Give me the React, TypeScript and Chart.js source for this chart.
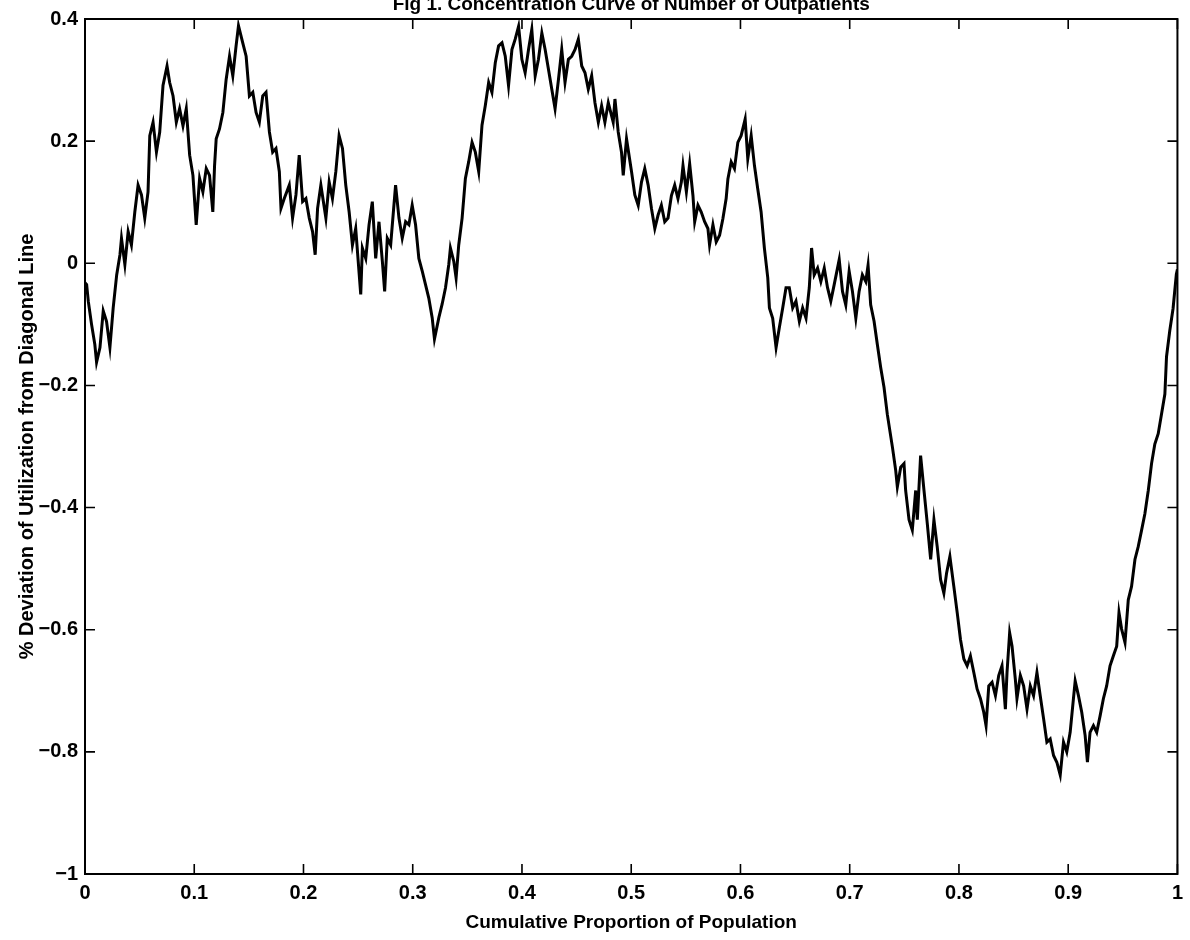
import React, { useEffect, useRef } from "react";
import { Chart, registerables } from "chart.js";

Chart.register(...registerables);

const TITLE = "Fig 1. Concentration Curve of Number of Outpatients";
const X_LABEL = "Cumulative Proportion of Population";
const Y_LABEL = "% Deviation of Utilization from Diagonal Line";

const X_TICKS = [0, 0.1, 0.2, 0.3, 0.4, 0.5, 0.6, 0.7, 0.8, 0.9, 1];
const Y_TICKS = [-1, -0.8, -0.6, -0.4, -0.2, 0, 0.2, 0.4];

// cumulative proportion of population (x)
const proportion = [
  0.0, 0.0015, 0.003, 0.006, 0.009, 0.0106, 0.0137, 0.0167, 0.0197, 0.0228,
  0.0258, 0.029, 0.032, 0.0334, 0.0365, 0.0395, 0.0425, 0.0456, 0.0486, 0.0517,
  0.0547, 0.0577, 0.0593, 0.0623, 0.0654, 0.0684, 0.0714, 0.0751, 0.0775, 0.0806,
  0.0836, 0.0866, 0.0897, 0.0927, 0.0958, 0.0988, 0.1018, 0.1049, 0.1079, 0.111,
  0.114, 0.117, 0.1186, 0.1201, 0.1231, 0.1262, 0.1292, 0.1323, 0.1353, 0.1383,
  0.1405, 0.1444, 0.1475, 0.1505, 0.1536, 0.1566, 0.1596, 0.1627, 0.1657, 0.1688,
  0.1718, 0.1748, 0.1779, 0.1794, 0.1824, 0.187, 0.19, 0.1931, 0.1961, 0.1992,
  0.2022, 0.2053, 0.2083, 0.2107, 0.2129, 0.2159, 0.2205, 0.2235, 0.2265, 0.2296,
  0.2326, 0.2357, 0.2387, 0.2418, 0.2448, 0.2478, 0.2524, 0.2539, 0.257, 0.26,
  0.263, 0.2661, 0.2691,
  0.2722, 0.2743, 0.2767, 0.2798, 0.2843, 0.2874, 0.2904, 0.2935, 0.2965, 0.2995,
  0.3026, 0.3056, 0.3087, 0.3117, 0.3147, 0.3178, 0.3199, 0.3239, 0.3269, 0.33,
  0.333, 0.3345, 0.3376, 0.3397, 0.3421, 0.3452, 0.3482, 0.3512, 0.3543, 0.3573,
  0.3604, 0.3634, 0.3664, 0.3695, 0.3725, 0.3756, 0.3786, 0.3817, 0.3847, 0.3877,
  0.3908, 0.3938, 0.3969, 0.3999, 0.4029, 0.406, 0.409, 0.4121, 0.4151, 0.4182,
  0.4212, 0.4242, 0.4273, 0.4303, 0.4334, 0.4364, 0.4394, 0.4425, 0.4455, 0.4486,
  0.4516, 0.4547, 0.4577, 0.4607, 0.4638, 0.4668, 0.4699, 0.4729, 0.4759, 0.479,
  0.4835, 0.4851, 0.4881, 0.4911, 0.4927, 0.4957, 0.5003, 0.5033, 0.5064, 0.5094,
  0.5124, 0.5155, 0.5185, 0.5216, 0.5246, 0.5276, 0.5307, 0.5337,
  0.5368, 0.5398, 0.5428, 0.5459, 0.5474, 0.5505, 0.5535, 0.5565, 0.5581, 0.5611,
  0.5641, 0.5672, 0.5702, 0.5717, 0.5748, 0.5778, 0.5809, 0.5839, 0.5869, 0.5885,
  0.5915, 0.5945, 0.5976, 0.6006, 0.6043, 0.6067, 0.6098, 0.6128, 0.6158, 0.6189,
  0.6219, 0.625, 0.6265, 0.6295, 0.6326, 0.6356, 0.6387, 0.6417, 0.6447, 0.6478,
  0.6508, 0.6539, 0.6569, 0.66, 0.663, 0.6651, 0.6675, 0.6706, 0.6736, 0.6767,
  0.6797, 0.6827, 0.6858, 0.6904, 0.6934, 0.6964, 0.6995, 0.7025, 0.7056, 0.7086,
  0.7116, 0.7147, 0.7168, 0.7192, 0.7223, 0.7253, 0.7284, 0.7314, 0.7344,
  0.7391, 0.7421, 0.7436, 0.7467, 0.7497, 0.7512, 0.7543, 0.7573, 0.7604, 0.7619,
  0.7649, 0.768, 0.771, 0.7741, 0.7771, 0.7801, 0.7832, 0.7862, 0.7887, 0.7917,
  0.7953, 0.7984, 0.8014, 0.8045, 0.8075, 0.8105, 0.8136, 0.8166, 0.8197, 0.8227,
  0.8248, 0.8273, 0.8303, 0.8334, 0.8364, 0.8394, 0.8425, 0.844, 0.8464, 0.8486,
  0.8516, 0.8531, 0.8562, 0.8592, 0.8623, 0.8653, 0.8683, 0.8714, 0.8744, 0.8775,
  0.8805, 0.8835, 0.8866, 0.8896, 0.8927, 0.8957, 0.8987, 0.9018, 0.9048, 0.9064,
  0.9094, 0.9124, 0.9155, 0.9176, 0.92, 0.9231, 0.9261, 0.9292, 0.9322, 0.9352,
  0.9383, 0.9413, 0.9444, 0.9465, 0.9489, 0.952, 0.955, 0.958, 0.9611, 0.9641,
  0.9672, 0.9702, 0.9733, 0.9763, 0.9793, 0.9824, 0.9854, 0.9885, 0.99, 0.993,
  0.996, 0.999, 1.0,
];

// % deviation of utilization from the diagonal line (y)
const deviation = [
  -0.032, -0.035, -0.062, -0.1, -0.133, -0.162, -0.138, -0.078, -0.095, -0.138,
  -0.073, -0.019, 0.014, 0.041, -0.002, 0.052, 0.03, 0.084, 0.128, 0.112,
  0.074, 0.117, 0.209, 0.231, 0.182, 0.215, 0.291, 0.323, 0.296, 0.274,
  0.231, 0.253, 0.225, 0.253, 0.177, 0.144, 0.063, 0.139, 0.117, 0.155,
  0.144, 0.084, 0.16, 0.204, 0.22, 0.247, 0.301, 0.339, 0.307, 0.356,
  0.389, 0.361, 0.339, 0.274, 0.28, 0.247, 0.231, 0.274, 0.28, 0.215,
  0.182, 0.188, 0.15, 0.09, 0.106, 0.128, 0.074, 0.112, 0.177, 0.101,
  0.106, 0.074, 0.052, 0.014, 0.09, 0.128, 0.074, 0.133, 0.106, 0.15,
  0.209, 0.188, 0.128, 0.084, 0.03, 0.057, -0.051, 0.025, 0.008, 0.063,
  0.101, 0.008, 0.068,
  0.003, -0.046, 0.041, 0.03, 0.128, 0.074, 0.041, 0.068, 0.063, 0.095,
  0.063, 0.008, -0.013, -0.035, -0.057, -0.089, -0.124, -0.089, -0.067, -0.04,
  -0.002, 0.025, 0.003, -0.024, 0.03, 0.074, 0.139, 0.166, 0.198, 0.182,
  0.15, 0.226, 0.258, 0.296, 0.28, 0.329, 0.356, 0.361, 0.339, 0.291,
  0.35, 0.367, 0.388, 0.334, 0.312, 0.35, 0.383, 0.307, 0.334, 0.377,
  0.35, 0.318, 0.285, 0.253, 0.301, 0.35, 0.296, 0.334, 0.339, 0.35,
  0.367, 0.323, 0.312, 0.285, 0.307, 0.263, 0.231, 0.258, 0.231, 0.263,
  0.231, 0.269, 0.215, 0.182, 0.144, 0.204, 0.15, 0.112, 0.095, 0.133,
  0.155, 0.128, 0.09, 0.057, 0.079, 0.095, 0.068, 0.074,
  0.111, 0.128, 0.106, 0.133, 0.16, 0.117, 0.163, 0.111, 0.068, 0.095,
  0.084, 0.068, 0.057, 0.03, 0.063, 0.035, 0.046, 0.073, 0.106, 0.138,
  0.166, 0.155, 0.198, 0.209, 0.236, 0.171, 0.209, 0.16, 0.122, 0.084,
  0.025, -0.024, -0.073, -0.09, -0.138, -0.105, -0.073, -0.04, -0.04, -0.073,
  -0.062, -0.095, -0.073, -0.09, -0.04, 0.025, -0.019, -0.008, -0.03, -0.008,
  -0.04, -0.062, -0.035, 0.006, -0.046, -0.068, -0.013, -0.046, -0.09, -0.046,
  -0.019, -0.03, -0.003, -0.068, -0.095, -0.133, -0.171, -0.203, -0.247,
  -0.301, -0.339, -0.366, -0.334, -0.328, -0.372, -0.42, -0.437, -0.372, -0.42,
  -0.315, -0.372, -0.426, -0.485, -0.42, -0.464, -0.518, -0.54, -0.507, -0.48,
  -0.529, -0.572, -0.616, -0.648, -0.659, -0.643, -0.67, -0.697, -0.713, -0.735,
  -0.757, -0.692, -0.686, -0.708, -0.675, -0.659, -0.73, -0.67, -0.605, -0.627,
  -0.681, -0.713, -0.675, -0.692, -0.73, -0.692, -0.708, -0.67, -0.708, -0.746,
  -0.784, -0.779, -0.806, -0.817, -0.838, -0.784, -0.8, -0.768, -0.713, -0.684,
  -0.708, -0.735, -0.773, -0.817, -0.768, -0.757, -0.768, -0.741, -0.713, -0.692,
  -0.659, -0.643, -0.627, -0.572, -0.599, -0.621, -0.551, -0.529, -0.485, -0.464,
  -0.437, -0.41, -0.372, -0.328, -0.296, -0.279, -0.247, -0.214, -0.153, -0.11,
  -0.074, -0.018, -0.01,
];

const FONT_FAMILY = '"Liberation Sans", Arial, Helvetica, sans-serif';

const fmt = (v: number) => {
  const r = Math.round(Number(v) * 10) / 10;
  if (r === 0) return "0";
  return r < 0 ? "\u2212" + String(-r) : String(r);
};

const framePlugin = {
  id: "matlabFrame",
  afterDatasetsDraw(chart: any) {
    const { ctx, chartArea: a, scales } = chart;
    const xs = scales.x;
    const ys = scales.y;
    const len = 10;
    ctx.save();
    ctx.strokeStyle = "#000";
    ctx.lineWidth = 1.6;
    ctx.beginPath();
    xs.ticks.forEach((t: any) => {
      const p = xs.getPixelForValue(t.value);
      ctx.moveTo(p, a.bottom);
      ctx.lineTo(p, a.bottom - len);
      ctx.moveTo(p, a.top);
      ctx.lineTo(p, a.top + len);
    });
    ys.ticks.forEach((t: any) => {
      const p = ys.getPixelForValue(t.value);
      ctx.moveTo(a.left, p);
      ctx.lineTo(a.left + len, p);
      ctx.moveTo(a.right, p);
      ctx.lineTo(a.right - len, p);
    });
    ctx.stroke();
    ctx.lineWidth = 2;
    ctx.strokeRect(a.left, a.top, a.right - a.left, a.bottom - a.top);
    ctx.restore();
  },
};

export default function App() {
  const ref = useRef<HTMLCanvasElement>(null);

  useEffect(() => {
    if (!ref.current) return;
    const points = proportion.map((x, i) => ({ x, y: deviation[i] }));
    const chart = new Chart(ref.current, {
      type: "line",
      data: {
        datasets: [
          {
            data: points,
            borderColor: "#000",
            borderWidth: 3,
            pointRadius: 0,
            tension: 0,
            fill: false,
          },
        ],
      },
      options: {
        animation: false,
        responsive: false,
        maintainAspectRatio: false,
        devicePixelRatio: 1,
        layout: { padding: { top: 0, right: 9, bottom: 0, left: 0 } },
        plugins: {
          legend: { display: false },
          tooltip: { enabled: false },
          title: {
            display: true,
            text: TITLE,
            fullSize: false,
            color: "#000",
            font: { family: FONT_FAMILY, size: 19, weight: "bold", lineHeight: 0.05 },
            padding: { top: 0, bottom: 14 },
          },
        },
        scales: {
          x: {
            type: "linear",
            min: 0,
            max: 1,
            grid: { display: false, drawTicks: false },
            border: { display: false },
            afterBuildTicks: (s: any) => {
              s.ticks = X_TICKS.map((v) => ({ value: v }));
            },
            afterFit: (s: any) => {
              s.height = 66;
            },
            ticks: {
              autoSkip: false,
              maxRotation: 0,
              padding: 7,
              color: "#000",
              font: { family: FONT_FAMILY, size: 20, weight: "bold" },
              callback: (v: any) => fmt(v),
            },
            title: {
              display: true,
              text: X_LABEL,
              color: "#000",
              font: { family: FONT_FAMILY, size: 19, weight: "bold" },
              padding: { top: 0, bottom: 5.6 },
            },
          },
          y: {
            type: "linear",
            min: -1,
            max: 0.4,
            grid: { display: false, drawTicks: false },
            border: { display: false },
            afterBuildTicks: (s: any) => {
              s.ticks = Y_TICKS.map((v) => ({ value: v }));
            },
            afterFit: (s: any) => {
              s.width = 85;
            },
            ticks: {
              autoSkip: false,
              padding: 7,
              color: "#000",
              font: { family: FONT_FAMILY, size: 20, weight: "bold" },
              callback: (v: any) => fmt(v),
            },
            title: {
              display: true,
              text: Y_LABEL,
              color: "#000",
              font: { family: FONT_FAMILY, size: 20, weight: "bold" },
              padding: { top: 15, bottom: 0 },
            },
          },
        },
      },
      plugins: [framePlugin],
    });
    return () => chart.destroy();
  }, []);

  return (
    <canvas
      ref={ref}
      width={1190}
      height={940}
      style={{ position: "absolute", left: 0, top: 0, width: 1190, height: 940, display: "block" }}
    />
  );
}
